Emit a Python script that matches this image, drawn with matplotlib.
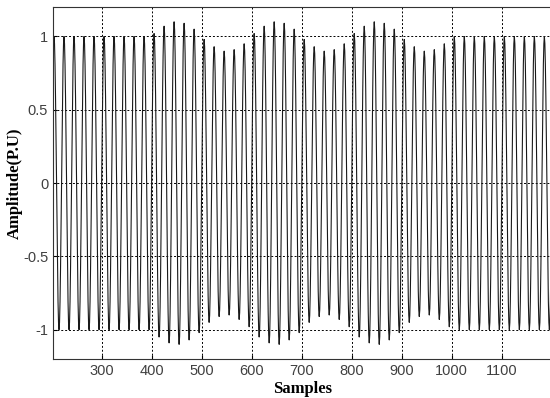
import numpy as np
import matplotlib.pyplot as plt

# Flicker test signal, 20 samples per cycle, shown from sample 200 to 1200
SAMPLE_START = 200
SAMPLE_END = 1200
SAMPLES_PER_CYCLE = 20

# peak amplitude of each half cycle (10 samples each)
normal = [1.0] * 20
swell = [1.02, 1.05, 1.07, 1.09, 1.10, 1.10, 1.09, 1.07, 1.05, 1.02]
sag = [0.98, 0.95, 0.93, 0.91, 0.90, 0.90, 0.91, 0.93, 0.95, 0.98]
half_cycle_amp = normal + swell + sag + swell + sag + swell + sag + normal

x_ticks = [300, 400, 500, 600, 700, 800, 900, 1000, 1100]
y_ticks = [-1, -0.5, 0, 0.5, 1]
y_tick_labels = ["-1", "-0.5", "0", "0.5", "1"]

n = np.arange(SAMPLE_START, SAMPLE_END + 1)
idx = np.clip((n - SAMPLE_START) // (SAMPLES_PER_CYCLE // 2), 0, len(half_cycle_amp) - 1)
amp = np.array(half_cycle_amp)[idx]
signal = amp * np.sin(2 * np.pi * n / SAMPLES_PER_CYCLE)

fig = plt.figure(figsize=(5.5, 3.98), dpi=100, facecolor='white')
ax = fig.add_axes([0.0964, 0.098, 0.907, 0.884])

ax.plot(n, signal, color='#1a1a1a', linewidth=0.8)

ax.set_xlim(203, 1200)
ax.set_ylim(-1.2, 1.2)
ax.set_xticks(x_ticks)
ax.set_yticks(y_ticks)
ax.set_yticklabels(y_tick_labels)
ax.tick_params(direction='in', length=3, labelsize=10.5, labelcolor='#404040',
               top=False, right=False)
for lab in ax.get_xticklabels() + ax.get_yticklabels():
    lab.set_family('Liberation Sans')

ax.grid(True, color='black', linestyle=(0, (2, 2)), linewidth=0.7)
for s in ax.spines.values():
    s.set_color('#333333')
    s.set_linewidth(0.8)

ax.set_xlabel("Samples", fontsize=12, fontweight='bold', family='Liberation Serif',
              labelpad=2)
ax.set_ylabel("Amplitude(P.U)", fontsize=12, fontweight='bold', family='Liberation Serif',
              labelpad=0)

plt.savefig("out.png", dpi=100, facecolor='white')
